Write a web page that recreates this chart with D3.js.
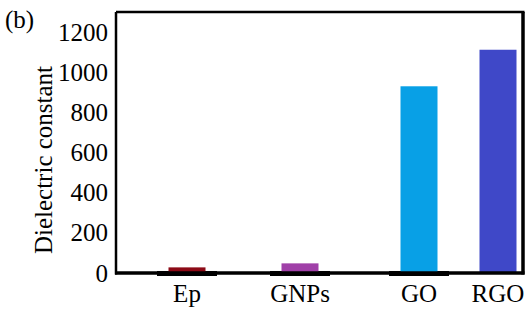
<!DOCTYPE html>
<html>
<head>
<meta charset="utf-8">
<script src="https://cdn.jsdelivr.net/npm/d3@7"></script>
<style>
body{margin:0;background:#fff;}
text{font-family:"Liberation Serif","DejaVu Serif",serif;}
</style>
</head>
<body>
<div class="chart"></div>
<script>
// data
var categories=['Ep','GNPs','GO','RGO'];
var values=[28,48,930,1112];
var baseValues=[10,10,10,0];
var colors=['#8c0a16','#a040a8','#08a0e6','#3f48c8'];
var yTicks=[0,200,400,600,800,1000,1200];

var width=531,height=309;
var mLeft=116,mTop=12,mRight=523,mBottom=273;
var fs='25px';

var svg=d3.select('div.chart').append('svg')
	.attr('width',width)
	.attr('height',height);

var yScale=d3.scaleLinear().domain([0,1300]).range([mBottom,mTop]);
// category centres are not evenly spaced in the original
var xScale=d3.scaleOrdinal().domain(categories).range([187,300,419,498]);
var barW=37;

// black stubs on the baseline
svg.selectAll('.base')
	.data(categories)
	.enter()
	.append('rect')
	.attr('class','base')
	.attr('x',function(d){return xScale(d)-30;})
	.attr('y',function(d,i){return yScale(baseValues[i]);})
	.attr('width',60)
	.attr('height',function(d,i){return baseValues[i]>0?yScale(0)-yScale(baseValues[i])+3:0;})
	.attr('fill','#000');

svg.selectAll('.bar')
	.data(categories)
	.enter()
	.append('rect')
	.attr('class','bar')
	.attr('x',function(d){return xScale(d)-barW/2;})
	.attr('y',function(d,i){return yScale(values[i]);})
	.attr('width',barW)
	.attr('height',function(d,i){return yScale(0)-yScale(values[i]);})
	.attr('fill',function(d,i){return colors[i];});

// frame
svg.append('line').attr('x1',mLeft).attr('x2',mLeft).attr('y1',mTop).attr('y2',mBottom+1.5)
	.attr('stroke','#000').attr('stroke-width',2.5);
svg.append('line').attr('x1',mLeft).attr('x2',mRight+1.5).attr('y1',mTop).attr('y2',mTop)
	.attr('stroke','#000').attr('stroke-width',2.5);
svg.append('line').attr('x1',mRight).attr('x2',mRight).attr('y1',mTop).attr('y2',mBottom+1.5)
	.attr('stroke','#000').attr('stroke-width',3.5);
svg.append('line').attr('x1',mLeft-1).attr('x2',mRight+1.5).attr('y1',yScale(0)).attr('y2',yScale(0))
	.attr('stroke','#000').attr('stroke-width',3.5);

// y axis labels
var yAxis=svg.append('g')
	.attr('transform','translate('+(mLeft-4)+',0)')
	.call(d3.axisLeft(yScale).tickValues(yTicks).tickFormat(d3.format('d')).tickSize(0).tickPadding(4));
yAxis.select('.domain').remove();
yAxis.selectAll('text')
	.attr('font-family','"Liberation Serif",serif')
	.attr('font-size',fs)
	.attr('fill','#000');

// x axis labels
var xAxis=svg.append('g')
	.attr('transform','translate(0,'+mBottom+')')
	.call(d3.axisBottom(d3.scalePoint().domain(categories).range([0,1])).tickSize(0));
xAxis.select('.domain').remove();
xAxis.selectAll('.tick')
	.attr('transform',function(d){return 'translate('+xScale(d)+',0)';});
xAxis.selectAll('text')
	.attr('y',29)
	.attr('dy',0)
	.attr('font-family','"Liberation Serif",serif')
	.attr('font-size',fs)
	.attr('fill','#000');

svg.append('text')
	.attr('transform','translate(52,'+160+') rotate(-90)')
	.attr('text-anchor','middle')
	.attr('font-size',fs)
	.text('Dielectric constant');

svg.append('text')
	.attr('x',5)
	.attr('y',28)
	.attr('font-size',fs)
	.text('(b)');
</script>
</body>
</html>
